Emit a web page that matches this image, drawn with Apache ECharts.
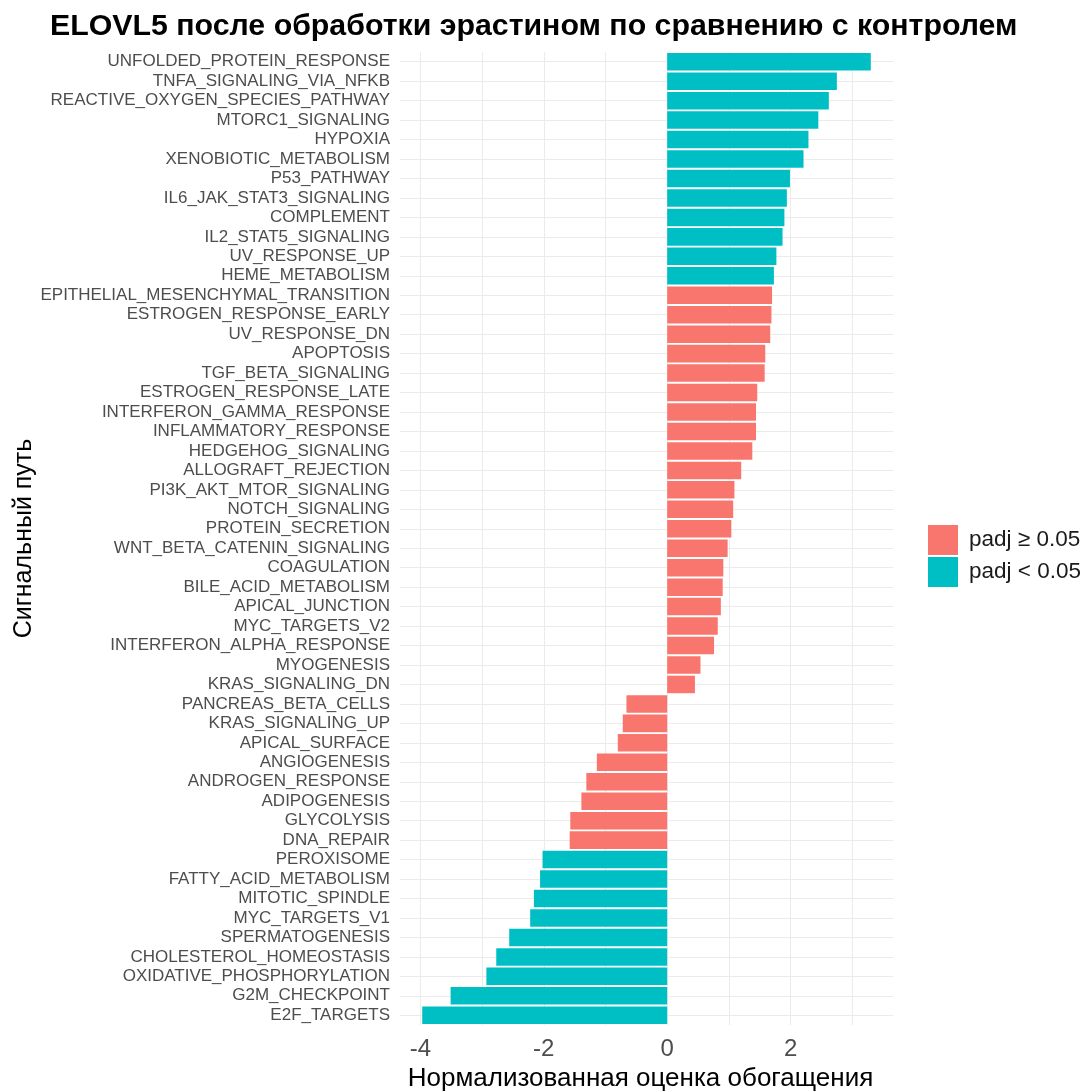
<!DOCTYPE html>
<html>
<head>
<meta charset="utf-8">
<script src="https://cdn.jsdelivr.net/npm/echarts@6/dist/echarts.min.js"></script>
<style>
html,body{margin:0;padding:0;background:#fff;}
#chart{width:1086px;height:1091px;}
</style>
</head>
<body>
<div id="chart"></div>
<script>
// Pathways, listed top to bottom as in the reference
const categories = [
  'UNFOLDED_PROTEIN_RESPONSE','TNFA_SIGNALING_VIA_NFKB','REACTIVE_OXYGEN_SPECIES_PATHWAY',
  'MTORC1_SIGNALING','HYPOXIA','XENOBIOTIC_METABOLISM','P53_PATHWAY','IL6_JAK_STAT3_SIGNALING',
  'COMPLEMENT','IL2_STAT5_SIGNALING','UV_RESPONSE_UP','HEME_METABOLISM',
  'EPITHELIAL_MESENCHYMAL_TRANSITION','ESTROGEN_RESPONSE_EARLY','UV_RESPONSE_DN','APOPTOSIS',
  'TGF_BETA_SIGNALING','ESTROGEN_RESPONSE_LATE','INTERFERON_GAMMA_RESPONSE','INFLAMMATORY_RESPONSE',
  'HEDGEHOG_SIGNALING','ALLOGRAFT_REJECTION','PI3K_AKT_MTOR_SIGNALING','NOTCH_SIGNALING',
  'PROTEIN_SECRETION','WNT_BETA_CATENIN_SIGNALING','COAGULATION','BILE_ACID_METABOLISM',
  'APICAL_JUNCTION','MYC_TARGETS_V2','INTERFERON_ALPHA_RESPONSE','MYOGENESIS','KRAS_SIGNALING_DN',
  'PANCREAS_BETA_CELLS','KRAS_SIGNALING_UP','APICAL_SURFACE','ANGIOGENESIS','ANDROGEN_RESPONSE',
  'ADIPOGENESIS','GLYCOLYSIS','DNA_REPAIR','PEROXISOME','FATTY_ACID_METABOLISM','MITOTIC_SPINDLE',
  'MYC_TARGETS_V1','SPERMATOGENESIS','CHOLESTEROL_HOMEOSTASIS','OXIDATIVE_PHOSPHORYLATION',
  'G2M_CHECKPOINT','E2F_TARGETS'
];
// Normalized enrichment scores (NES)
const nes = [
  3.30, 2.75, 2.62, 2.45, 2.29, 2.21, 1.99, 1.94, 1.90, 1.87, 1.77, 1.73,
  1.70, 1.69, 1.67, 1.59, 1.58, 1.46, 1.44, 1.44, 1.38, 1.20, 1.09, 1.07,
  1.04, 0.98, 0.91, 0.90, 0.87, 0.82, 0.76, 0.54, 0.45,
  -0.66, -0.72, -0.80, -1.14, -1.31, -1.39, -1.57, -1.58,
  -2.02, -2.06, -2.16, -2.22, -2.56, -2.77, -2.93, -3.51, -3.97
];
// true = padj < 0.05
const significant = [
  true,true,true,true,true,true,true,true,true,true,true,true,
  false,false,false,false,false,false,false,false,false,false,false,false,
  false,false,false,false,false,false,false,false,false,
  false,false,false,false,false,false,false,false,
  true,true,true,true,true,true,true,true,true
];
const groupNames = ['padj \u2265 0.05', 'padj < 0.05'];
const xTickLabels = [-4, -2, 0, 2];

const FONT = '"Liberation Sans", Arial, sans-serif';
const chart = echarts.init(document.getElementById('chart'));

const nsData = nes.map((v, i) => significant[i] ? null : v);
const sData = nes.map((v, i) => significant[i] ? v : null);

chart.setOption({
  backgroundColor: '#ffffff',
  animation: false,
  title: {
    text: 'ELOVL5 после обработки эрастином по сравнению с контролем',
    left: 45, top: 7,
    textStyle: { fontFamily: FONT, fontSize: 30.3, fontWeight: 'bold', color: '#000' }
  },
  legend: {
    orient: 'vertical',
    left: 928, top: 525,
    padding: 0,
    itemWidth: 30, itemHeight: 30, itemGap: 2,
    icon: 'rect',
    data: groupNames,
    textStyle: { fontFamily: FONT, fontSize: 22.5, color: '#1a1a1a', padding: [0, 0, 0, 6] }
  },
  grid: { left: 400, top: 52, width: 493, height: 973, containLabel: false, outerBoundsMode: 'none' },
  xAxis: {
    type: 'value',
    min: -4.33, max: 3.66,
    splitNumber: 8,
    axisLine: { show: false },
    axisTick: { show: false },
    axisLabel: {
      fontFamily: FONT, fontSize: 24, color: '#4d4d4d', margin: 12,
      formatter: function (v) {
        const r = Math.round(v);
        if (Math.abs(v - r) < 1e-6 && xTickLabels.indexOf(r) >= 0) return String(r);
        return '';
      }
    },
    splitLine: { show: true, showMinLine: false, showMaxLine: false, lineStyle: { color: '#ebebeb', width: 1 } },
    name: 'Нормализованная оценка обогащения',
    nameLocation: 'middle',
    nameGap: 36,
    nameTextStyle: { fontFamily: FONT, fontSize: 26, color: '#000', padding: [0, 12, 0, 0] }
  },
  yAxis: {
    type: 'category',
    data: categories,
    inverse: true,
    axisLine: { show: false },
    axisTick: { show: false },
    axisLabel: { interval: 0, fontFamily: FONT, fontSize: 17, color: '#4d4d4d', margin: 10 },
    splitLine: { show: true, alignWithLabel: true, interval: 0, lineStyle: { color: '#ebebeb', width: 1 } },
    name: 'Сигнальный путь',
    nameLocation: 'middle',
    nameGap: 362,
    nameRotate: 90,
    nameTextStyle: { fontFamily: FONT, fontSize: 25, color: '#000' }
  },
  series: [
    {
      name: groupNames[0], type: 'bar', data: nsData,
      barCategoryGap: '10%', barGap: '-100%',
      itemStyle: { color: '#F8766D' }
    },
    {
      name: groupNames[1], type: 'bar', data: sData,
      barCategoryGap: '10%', barGap: '-100%',
      itemStyle: { color: '#00BFC4' }
    }
  ]
});
</script>
</body>
</html>
